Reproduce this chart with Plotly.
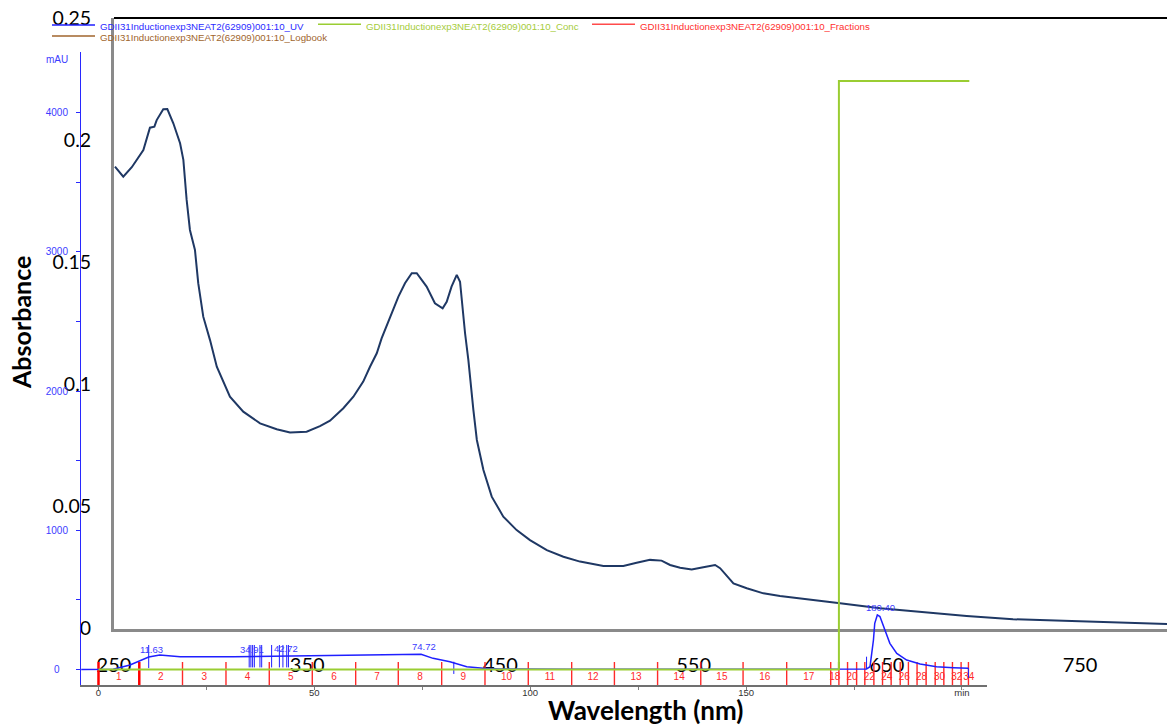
import plotly.graph_objects as go

# ---------------- data ----------------
# Absorbance spectrum
wavelength_nm = [250.5, 254.8, 259.2, 265.2, 268.6, 270.9, 272.1, 275.5, 277.6, 280.7,
                 284.2, 285.9, 287.6, 289.3, 291.9, 293.6, 296.2, 299.7, 303.2, 310.0,
                 316.9, 325.6, 334.2, 341.1, 349.7, 356.6, 361.8, 368.7, 373.9, 379.0,
                 382.5, 386.0, 388.5, 392.9, 397.2, 400.6, 404.1, 406.7, 411.8, 416.1,
                 420.1, 422.2, 424.7, 427.4, 429.1, 431.7, 433.4, 436.0, 437.8, 441.2,
                 445.5, 451.5, 458.4, 465.3, 474.0, 482.6, 491.2, 503.3, 513.6, 520.5,
                 527.4, 533.4, 537.8, 543.0, 549.0, 555.0, 561.1, 563.7, 570.6, 577.5,
                 586.1, 594.7, 603.4, 614.5, 625.8, 646.5, 667.2, 691.3, 715.3, 741.2,
                 767.1, 795.0]
absorbance = [0.1891, 0.1850, 0.1889, 0.1959, 0.2051, 0.2055, 0.2082, 0.2126, 0.2127, 0.2069,
              0.1987, 0.1919, 0.1755, 0.1632, 0.1550, 0.1414, 0.1277, 0.1181, 0.1072, 0.0949,
              0.0888, 0.0840, 0.0816, 0.0803, 0.0806, 0.0829, 0.0851, 0.0902, 0.0949, 0.1011,
              0.1072, 0.1127, 0.1188, 0.1277, 0.1359, 0.1414, 0.1455, 0.1455, 0.1400, 0.1332,
              0.1311, 0.1338, 0.1400, 0.1448, 0.1420, 0.1209, 0.1100, 0.0895, 0.0772, 0.0649,
              0.0540, 0.0458, 0.0403, 0.0362, 0.0321, 0.0294, 0.0274, 0.0256, 0.0256, 0.0269,
              0.0281, 0.0278, 0.0260, 0.0249, 0.0242, 0.0251, 0.0260, 0.0247, 0.0185, 0.0165,
              0.0144, 0.0133, 0.0124, 0.0114, 0.0103, 0.0083, 0.0069, 0.0051, 0.0038, 0.0031,
              0.0025, 0.0018]
spec_x_ticks = [250, 350, 450, 550, 650, 750]
spec_y_ticks = [0, 0.05, 0.1, 0.15, 0.2, 0.25]
spec_y_labels = ["0", "0.05", "0.1", "0.15", "0.2", "0.25"]

# Chromatogram: UV trace (min, mAU)
uv_time = [-4.0, 0, 3.4, 7.3, 9.6, 11.63, 14.2, 15.0, 18.9, 31.2,
           51.3, 69.8, 74.72, 77.5, 81.4, 85.3, 89.1, 93.0, 108.4, 140.0,
           170.0, 177.9, 178.7, 179.5, 179.8, 180.4, 181.0, 182.2, 183.3, 184.9,
           187.2, 190.3, 194.1, 198.0, 201.5]
uv_mau = [0, 0, 1, 32, 63, 90, 104, 102, 92, 92,
          99, 109, 110, 80, 56, 20, 9, 4, 1, 1,
          1, 4, 20, 212, 332, 392, 380, 284, 188, 116,
          68, 40, 20, 13, 9]

# Concentration step (% B)
conc_time = [0, 171.5, 171.5, 201.7]
conc_pct = [0, 0, 100, 100]

# Fractions: start times, run end
frac_start = [0, 9.45, 19.46, 29.53, 39.56, 49.52, 59.57, 69.44, 79.49, 89.52,
              99.55, 109.6, 119.5, 129.5, 139.5, 149.3, 159.4, 169.6, 171.5, 173.5,
              175.6, 177.5, 179.6, 181.6, 183.6, 185.7, 187.6, 189.6, 191.7, 193.8,
              195.8, 197.8, 199.8, 201.5]
run_end = 201.7

# Peak / event marks (time, low mAU, high mAU)
mark_time = [11.63, 34.91, 35.3, 35.7, 36.1, 37.4, 37.8, 40.1, 41.9, 42.72,
             43.6, 44.0, 82.3, 177.9, 201.5]
mark_low = [10, 15, 15, 15, 15, 15, 15, 15, 15, 15, 15, 15, -32, 4, -61]
mark_high = [176, 176, 176, 176, 176, 176, 176, 176, 176, 176, 176, 176, 56, 92, 9]
peak_label_time = [11.63, 34.91, 42.72, 74.72, 180.40]

logbook_time = [171.5]

mau_ticks = [0, 500, 1000, 1500, 2000, 2500, 3000, 3500, 4000]
min_ticks = [0, 25, 50, 75, 100, 125, 150, 175, 200]
min_labels = ["0", "", "50", "", "100", "", "150", "", "min"]

run_name = "GDII31Inductionexp3NEAT2(62909)001:10"
curve_suffix = ["UV", "Conc", "Fractions", "Logbook"]

# ---------------- helpers ----------------
W, H = 1167, 725


def px(x):
    return x / W


def py(y):
    return 1 - y / H


def uv_at(t):
    for i in range(len(uv_time) - 1):
        if uv_time[i] <= t <= uv_time[i + 1]:
            f = (t - uv_time[i]) / (uv_time[i + 1] - uv_time[i])
            return uv_mau[i] + f * (uv_mau[i + 1] - uv_mau[i])
    return uv_mau[-1]


UV_BLUE = "#1f1fff"
LABEL_BLUE = "#3c3cff"
CONC_GREEN = "#9acd32"
FRAC_RED = "#ff2a2a"
LOG_BROWN = "#a0652d"
SPEC_NAVY = "#1f3864"
CHROM_FONT = "Liberation Sans, Arial, sans-serif"
SPEC_FONT = "Lato, sans-serif"

fig = go.Figure()

# absorbance spectrum
fig.add_trace(go.Scatter(x=wavelength_nm, y=absorbance, mode="lines",
                         line=dict(color=SPEC_NAVY, width=2),
                         xaxis="x", yaxis="y", hoverinfo="skip", showlegend=False))

# concentration
fig.add_trace(go.Scatter(x=conc_time, y=conc_pct, mode="lines",
                         line=dict(color=CONC_GREEN, width=2),
                         xaxis="x2", yaxis="y3", hoverinfo="skip", showlegend=False))

# fraction boundaries
ymin2, ymax2 = -111.4, 4436
fx, fy = [], []
for s in frac_start[2:]:
    fx += [s, s, None]
    fy += [54, ymin2, None]
fig.add_trace(go.Scatter(x=fx, y=fy, mode="lines", line=dict(color=FRAC_RED, width=1.4),
                         xaxis="x2", yaxis="y2", hoverinfo="skip", showlegend=False))
fx, fy = [], []
for s in frac_start[:2]:
    fx += [s, s, None]
    fy += [54, ymin2, None]
fig.add_trace(go.Scatter(x=fx, y=fy, mode="lines", line=dict(color="#ff0000", width=2.5),
                         xaxis="x2", yaxis="y2", hoverinfo="skip", showlegend=False))

# fraction numbers
ends = frac_start[1:] + [run_end]
lab_x, lab_t = [], []
for n, (s, e) in enumerate(zip(frac_start, ends), start=1):
    if n <= 18 or n % 2 == 0:
        lab_x.append((s + e) / 2)
        lab_t.append(str(n))
fig.add_trace(go.Scatter(x=lab_x, y=[-61] * len(lab_x), mode="text", text=lab_t,
                         textfont=dict(family=CHROM_FONT, size=10, color=FRAC_RED),
                         xaxis="x2", yaxis="y2", hoverinfo="skip", showlegend=False))

# logbook marks
lx, ly = [], []
for t in logbook_time:
    lx += [t, t, None]
    ly += [0, 54, None]
fig.add_trace(go.Scatter(x=lx, y=ly, mode="lines", line=dict(color=LOG_BROWN, width=2),
                         xaxis="x2", yaxis="y2", hoverinfo="skip", showlegend=False))

# peak marks
mx, my = [], []
for t, lo, hi in zip(mark_time, mark_low, mark_high):
    mx += [t, t, None]
    my += [lo, hi, None]
fig.add_trace(go.Scatter(x=mx, y=my, mode="lines", line=dict(color=UV_BLUE, width=1),
                         xaxis="x2", yaxis="y2", hoverinfo="skip", showlegend=False))

# UV curve
fig.add_trace(go.Scatter(x=uv_time, y=uv_mau, mode="lines",
                         line=dict(color=UV_BLUE, width=1.5),
                         xaxis="x2", yaxis="y2", hoverinfo="skip", showlegend=False))

annotations = []
for t in peak_label_time:
    annotations.append(dict(x=t, y=uv_at(t), xref="x2", yref="y2", text=f"{t:.2f}",
                            showarrow=False, xanchor="center", yanchor="bottom",
                            xshift=3, yshift=0,
                            font=dict(family=CHROM_FONT, size=9.5, color=LABEL_BLUE)))

# mAU unit label
annotations.append(dict(x=px(57), y=py(60), xref="paper", yref="paper", text="mAU",
                        showarrow=False, xanchor="center", yanchor="middle",
                        font=dict(family=CHROM_FONT, size=10, color=LABEL_BLUE)))

# axis titles
annotations.append(dict(x=px(21), y=py(323), xref="paper", yref="paper", text="<b>Absorbance</b>",
                        showarrow=False, textangle=-90, xanchor="center", yanchor="middle",
                        font=dict(family=SPEC_FONT, size=25, color="black")))
annotations.append(dict(x=px(645), y=py(710), xref="paper", yref="paper",
                        text="<b>Wavelength (nm)</b>", showarrow=False,
                        xanchor="center", yanchor="middle",
                        font=dict(family=SPEC_FONT, size=26, color="black")))

# curve key
shapes = []
key_colors = [UV_BLUE, CONC_GREEN, "#ff4b4b", LOG_BROWN]
key_text_colors = ["#2b2bff", "#a5cc3a", "#ff3030", LOG_BROWN]
key_pos = [(52, 25, 26.3), (318, 24.3, 26.3), (592, 24.3, 26.7), (52, 36, 37.5)]
for suffix, c, tc, (x0, ly0, ty) in zip(curve_suffix, key_colors, key_text_colors, key_pos):
    shapes.append(dict(type="line", xref="paper", yref="paper",
                       x0=px(x0), x1=px(x0 + 43), y0=py(ly0), y1=py(ly0),
                       line=dict(color=c, width=1.5)))
    annotations.append(dict(x=px(x0 + 46), y=py(ty), xref="paper", yref="paper",
                            text=f"{run_name}_{suffix}", showarrow=False,
                            xanchor="left", yanchor="middle",
                            font=dict(family=CHROM_FONT, size=9.7, color=tc)))

# top frame line of the spectrum panel
shapes.append(dict(type="line", xref="paper", yref="paper", x0=px(114), x1=1,
                   y0=py(18), y1=py(18), line=dict(color="black", width=2)))

fig.update_layout(
    width=W, height=H,
    margin=dict(l=0, r=0, t=0, b=0, autoexpand=False),
    paper_bgcolor="white", plot_bgcolor="rgba(0,0,0,0)",
    showlegend=False,
    xaxis=dict(domain=[px(114), 1], range=[250, 795], anchor="y", automargin=False,
               showline=True, linecolor="#8a8a8a", linewidth=3,
               showgrid=False, zeroline=False, ticks="",
               tickvals=spec_x_ticks, ticklabelstandoff=16,
               tickfont=dict(family=SPEC_FONT, size=20, color="black")),
    yaxis=dict(domain=[py(628.5), py(18)], range=[0, 0.25], anchor="x", automargin=False,
               showline=True, linecolor="#8a8a8a", linewidth=3,
               showgrid=False, zeroline=False, ticks="",
               tickvals=spec_y_ticks, ticktext=spec_y_labels, ticklabelstandoff=16,
               tickfont=dict(family=SPEC_FONT, size=19.5, color="black")),
    xaxis2=dict(domain=[px(81), px(987)], range=[-4.05, 205.8], anchor="y2", automargin=False,
                showline=True, linecolor="#707070", linewidth=1.5,
                showgrid=False, zeroline=False, ticks="outside", ticklen=3,
                tickcolor="#808080", tickvals=min_ticks, ticktext=min_labels,
                ticklabelstandoff=-5,
                tickfont=dict(family=CHROM_FONT, size=9.5, color="#333333")),
    yaxis2=dict(domain=[py(685), py(52)], range=[ymin2, ymax2], anchor="x2", automargin=False,
                showline=True, linecolor="#2828ff", linewidth=1,
                showgrid=False, zeroline=False, ticks="outside", ticklen=4,
                tickcolor="#2828ff", tickvals=mau_ticks,
                ticktext=["0\u00a0\u00a0\u00a0", "", "1000", "", "2000", "", "3000", "", "4000"],
                ticklabelstandoff=6,
                tickfont=dict(family=CHROM_FONT, size=10, color=LABEL_BLUE)),
    yaxis3=dict(overlaying="y2", anchor="x2", range=[-2.634, 104.93], visible=False),
    annotations=annotations,
    shapes=shapes,
)

fig.write_html("out.html")
